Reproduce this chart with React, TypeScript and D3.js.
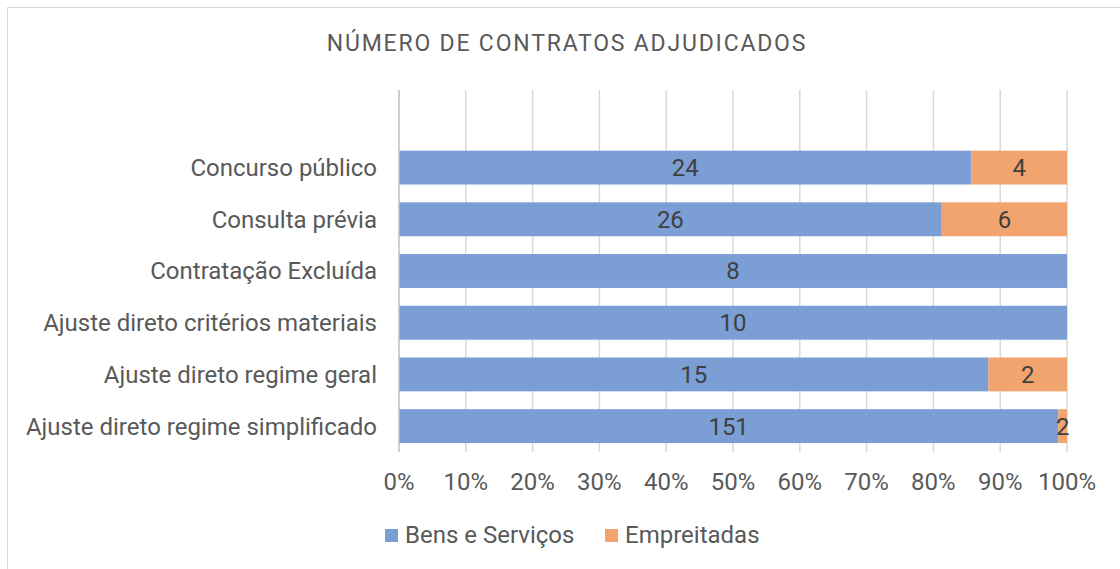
import { useEffect, useRef } from "react";
import * as d3 from "d3";

const categorias = [
  "Concurso público",
  "Consulta prévia",
  "Contratação Excluída",
  "Ajuste direto critérios materiais",
  "Ajuste direto regime geral",
  "Ajuste direto regime simplificado",
];
const bensServicos = [24, 26, 8, 10, 15, 151];
const empreitadas = [4, 6, 0, 0, 2, 2];
const series = ["Bens e Serviços", "Empreitadas"];
const cores = ["#7b9ed5", "#f1a46e"];
const ticks = [0, 0.1, 0.2, 0.3, 0.4, 0.5, 0.6, 0.7, 0.8, 0.9, 1];

const W = 1120;
const H = 569;

const App = () => {
  const ref = useRef<SVGSVGElement>(null);

  useEffect(() => {
    if (!ref.current) return;
    const svg = d3.select(ref.current);
    svg.selectAll("*").remove();

    const fonte = "Roboto, 'Noto Sans', sans-serif";
    const left = 399;
    const right = 1067;
    const plotTop = 90;
    const plotBottom = 452;

    // moldura do gráfico
    svg.append("rect")
      .attr("x", 7.5).attr("y", 7.5)
      .attr("width", W).attr("height", H)
      .attr("fill", "#fff")
      .attr("stroke", "#d9d9d9");

    svg.append("text")
      .attr("x", 567).attr("y", 51)
      .attr("text-anchor", "middle")
      .style("font-family", fonte)
      .style("font-size", "23px")
      .style("letter-spacing", "1.8px")
      .style("fill", "#595959")
      .text("NÚMERO DE CONTRATOS ADJUDICADOS");

    const x = d3.scaleLinear().domain([0, 1]).range([left, right]);
    const step = (plotBottom - plotTop) / 7;
    const y = d3.scaleBand()
      .domain(categorias)
      .range([plotTop + step, plotBottom])
      .paddingInner(0.345)
      .paddingOuter(0.1725);

    // grelha
    svg.append("g")
      .selectAll("line")
      .data(ticks.slice(1))
      .enter()
      .append("line")
      .attr("x1", (d) => x(d)).attr("x2", (d) => x(d))
      .attr("y1", plotTop).attr("y2", plotBottom)
      .attr("stroke", "#d9d9d9")
      .attr("stroke-width", 1.5);

    const dados = categorias.map((c, i) => {
      const total = bensServicos[i] + empreitadas[i];
      return { c, vals: [bensServicos[i], empreitadas[i]], total };
    });

    const stack = d3.stack<any>()
      .keys(["0", "1"])
      .value((d, k) => d.vals[+k] / d.total);
    const camadas = stack(dados as any);

    camadas.forEach((camada, si) => {
      const g = svg.append("g");
      g.selectAll("rect")
        .data(camada)
        .enter()
        .append("rect")
        .attr("x", (d) => x(d[0]))
        .attr("width", (d) => Math.max(0, x(d[1]) - x(d[0])))
        .attr("y", (d: any) => y(d.data.c)!)
        .attr("height", y.bandwidth())
        .attr("fill", cores[si]);

      g.selectAll("text")
        .data(camada.filter((d: any) => d.data.vals[si] > 0))
        .enter()
        .append("text")
        .attr("x", (d) => (x(d[0]) + x(d[1])) / 2)
        .attr("y", (d: any) => y(d.data.c)! + y.bandwidth() / 2)
        .attr("dy", "0.35em")
        .attr("text-anchor", "middle")
        .style("font-family", fonte)
        .style("font-size", "24px")
        .style("fill", "#404040")
        .text((d: any) => d.data.vals[si]);
    });

    // eixo vertical
    svg.append("line")
      .attr("x1", left).attr("x2", left)
      .attr("y1", plotTop).attr("y2", plotBottom)
      .attr("stroke", "#bfbfbf")
      .attr("stroke-width", 1.5);

    // rótulos das categorias
    svg.append("g")
      .selectAll("text")
      .data(categorias)
      .enter()
      .append("text")
      .attr("x", 377)
      .attr("y", (d) => y(d)! + y.bandwidth() / 2)
      .attr("dy", "0.35em")
      .attr("text-anchor", "end")
      .style("font-family", fonte)
      .style("font-size", "24px")
      .style("fill", "#595959")
      .text((d) => d);

    // rótulos do eixo x
    svg.append("g")
      .selectAll("text")
      .data(ticks)
      .enter()
      .append("text")
      .attr("x", (d) => x(d))
      .attr("y", 490)
      .attr("text-anchor", "middle")
      .style("font-family", fonte)
      .style("font-size", "24px")
      .style("fill", "#595959")
      .text((d) => d3.format(".0%")(d));

    // legenda
    const legX = [385, 605];
    series.forEach((s, i) => {
      svg.append("rect")
        .attr("x", legX[i]).attr("y", 529)
        .attr("width", 13).attr("height", 13)
        .attr("fill", cores[i]);
      svg.append("text")
        .attr("x", legX[i] + 20).attr("y", 543)
        .style("font-family", fonte)
        .style("font-size", "24px")
        .style("fill", "#595959")
        .text(s);
    });
  }, []);

  return (
    <svg
      ref={ref}
      width={W}
      height={H}
      style={{ position: "absolute", left: 0, top: 0, display: "block" }}
    />
  );
};

export default App;
